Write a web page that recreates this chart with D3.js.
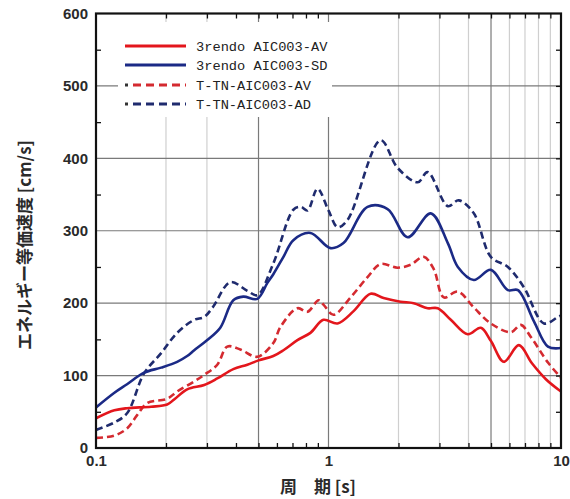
<!DOCTYPE html>
<html><head><meta charset="utf-8">
<script src="https://cdn.jsdelivr.net/npm/d3@7"></script>
<style>
body{margin:0;background:#fff;}
svg{display:block;}
</style></head>
<body>
<svg id="c" width="570" height="499"></svg>
<script>
// ---- data ----
const seriesNames = ["3rendo AIC003-AV", "3rendo AIC003-SD", "T-TN-AIC003-AV", "T-TN-AIC003-AD"];

const rendoAV_T = [0.1,0.12,0.136,0.1726,0.2023,0.2168,0.2467,0.292,0.3324,0.3895,0.4477,0.5,0.579,0.64,0.735,0.836,0.951,1.094,1.282,1.517,1.726,2.04,2.325,2.67,2.95,3.357,3.97,4.52,4.99,5.68,6.59,7.5,8.61,10];
const rendoAV_V = [41,52,55,57,60,67,81,87,96,109,115,121,127,135,149,159,177,172,189,213,207,202,200,193,193,177,157,166,148,119,142,117,95,78];

const rendoSD_T = [0.1,0.1196,0.136,0.161,0.1906,0.2234,0.2467,0.2645,0.301,0.3424,0.3895,0.43,0.494,0.546,0.579,0.64,0.706,0.836,1.02,1.16,1.472,1.795,2.19,2.752,3.26,3.6,4.217,4.99,5.91,6.53,7.65,8.79,10];
const rendoSD_V = [56,76,88,104,111,119,127,135,149,166,204,209,206,228,240,264,287,297,276,283,333,330,291,324,283,250,232,246,218,218,175,140,138];

const ttnAV_T = [0.1,0.1196,0.136,0.15,0.166,0.2023,0.2234,0.2645,0.292,0.3324,0.367,0.4175,0.494,0.579,0.621,0.735,0.812,0.906,0.951,1.051,1.245,1.472,1.675,1.98,2.256,2.566,2.836,3.131,3.6,4.217,4.99,6.09,6.72,7.43,8.79,10];
const ttnAV_V = [14,17,27,45,62,68,78,92,101,115,140,136,126,145,167,193,188,204,198,184,208,236,254,249,253,264,247,208,216,194,172,160,170,153,118,97];

const ttnAD_T = [0.1,0.1196,0.136,0.161,0.1906,0.2234,0.2645,0.292,0.319,0.378,0.4477,0.494,0.579,0.706,0.76,0.812,0.897,1.0,1.094,1.208,1.675,1.98,2.42,2.67,3.26,3.63,4.217,4.99,5.91,6.92,8.45,9.71,10];
const ttnAD_V = [25,35,48,103,131,159,177,181,195,229,217,211,255,329,333,328,358,328,305,315,425,387,367,381,334,342,324,264,250,222,172,181,183];

const yTicks = [0,100,200,300,400,500,600];
const yMinor = [50,150,250,350,450,550];
const xTicks = [0.1,1,10];
const xTickLabels = ["0.1","1","10"];
const xMinor = [0.2,0.3,0.4,0.5,0.6,0.7,0.8,0.9,2,3,4,5,6,7,8,9];
const xGridLight = [0.2,0.3,2,3,4,6,7,8,9];
const xGridDark = [0.5,1,5];
const yGrid = [100,200,300,400,500];

// ---- drawing ----
const svg = d3.select("#c");
const L = 96, R = 561, T = 13.5, B = 448;
const x = d3.scaleLog().domain([0.1,10]).range([L,R]);
const y = d3.scaleLinear().domain([0,600]).range([B,T]);

const g = svg.append("g");

// grid
g.selectAll(".gl").data(xGridLight).enter().append("line")
  .attr("x1",d=>x(d)).attr("x2",d=>x(d)).attr("y1",T).attr("y2",B)
  .attr("stroke","#cfcfcf").attr("stroke-width",1.2);
g.selectAll(".gd").data(xGridDark).enter().append("line")
  .attr("x1",d=>x(d)).attr("x2",d=>x(d)).attr("y1",T).attr("y2",B)
  .attr("stroke","#7a7a7a").attr("stroke-width",1.2);
g.selectAll(".gy").data(yGrid).enter().append("line")
  .attr("x1",L).attr("x2",R).attr("y1",d=>y(d)).attr("y2",d=>y(d))
  .attr("stroke","#7a7a7a").attr("stroke-width",1.2);

// legend background
g.append("rect").attr("x",118).attr("y",22).attr("width",214).attr("height",95).attr("fill","#fff");

// minor ticks via axes
function tickAxis(axis, tr){
  const a = g.append("g").attr("transform",tr).call(axis);
  a.select(".domain").remove();
  a.selectAll("line").attr("stroke","#111").attr("stroke-width",1.3);
  return a;
}
tickAxis(d3.axisLeft(y).tickValues(yMinor).tickSize(-5).tickFormat(""), `translate(${L},0)`);
tickAxis(d3.axisRight(y).tickValues(yMinor.concat([100,200,300,400,500])).tickSize(-5).tickFormat(""), `translate(${R},0)`);
tickAxis(d3.axisBottom(x).tickValues(xMinor).tickSize(-5).tickFormat(""), `translate(0,${B})`);
tickAxis(d3.axisTop(x).tickValues(xMinor).tickSize(-5).tickFormat(""), `translate(0,${T})`);

// labelled axes
const ya = g.append("g").attr("transform",`translate(${L},0)`)
  .call(d3.axisLeft(y).tickValues(yTicks).tickSize(0).tickPadding(8));
ya.select(".domain").remove();
ya.selectAll("text").attr("font-family","Liberation Sans, Arial, sans-serif").attr("font-size",15).attr("font-weight","bold").attr("fill","#2a2a2a");

const xa = g.append("g").attr("transform",`translate(0,${B})`)
  .call(d3.axisBottom(x).tickValues(xTicks).tickSize(0).tickPadding(7).tickFormat((d,i)=>xTickLabels[i]));
xa.select(".domain").remove();
xa.selectAll("text").attr("font-family","Liberation Sans, Arial, sans-serif").attr("font-size",15).attr("font-weight","bold").attr("fill","#2a2a2a");

// series
const series = [
  {T:rendoAV_T, V:rendoAV_V, color:"#e3161c", dash:null},
  {T:rendoSD_T, V:rendoSD_V, color:"#1b2a86", dash:null},
  {T:ttnAV_T, V:ttnAV_V, color:"#d42a30", dash:"7,4"},
  {T:ttnAD_T, V:ttnAD_V, color:"#1f2b6e", dash:"7,4"}
];
const line = d3.line().x(d=>x(d[0])).y(d=>y(d[1])).curve(d3.curveCatmullRom.alpha(0.5));
svg.append("clipPath").attr("id","clip").append("rect").attr("x",L).attr("y",T).attr("width",R-L).attr("height",B-T);
const pg = g.append("g").attr("clip-path","url(#clip)");
[2,3,0,1].forEach(i=>{
  const s = series[i];
  pg.append("path").datum(s.T.map((t,k)=>[t,s.V[k]]))
    .attr("d",line).attr("fill","none").attr("stroke",s.color)
    .attr("stroke-width",2.6).attr("stroke-dasharray",s.dash)
    .attr("stroke-linejoin","round");
});

// frame
g.append("rect").attr("x",L).attr("y",T).attr("width",R-L).attr("height",B-T)
  .attr("fill","none").attr("stroke","#111").attr("stroke-width",2.2);

// legend
const legY = [46,65,85,104];
const lg = g.append("g");
series.forEach((s,i)=>{
  if(s.dash){
    lg.append("line").attr("x1",125).attr("x2",128).attr("y1",legY[i]).attr("y2",legY[i]).attr("stroke","#333").attr("stroke-width",3);
    lg.append("line").attr("x1",133).attr("x2",186).attr("y1",legY[i]).attr("y2",legY[i])
      .attr("stroke",s.color).attr("stroke-width",3).attr("stroke-dasharray","8,5");
  } else {
    lg.append("line").attr("x1",125).attr("x2",186).attr("y1",legY[i]).attr("y2",legY[i])
      .attr("stroke",s.color).attr("stroke-width",3);
  }
  lg.append("text").attr("x",196).attr("y",legY[i]).attr("dy","0.36em")
    .attr("font-family","Liberation Mono, DejaVu Sans Mono, monospace").attr("font-size",13.7)
    .attr("fill","#222").text(seriesNames[i]);
});

// axis titles
svg.append("text").attr("transform","translate(31,245) rotate(-90)").attr("text-anchor","middle")
  .attr("font-family","Noto Sans CJK JP, sans-serif").attr("font-size",17).attr("font-weight","bold")
  .attr("fill","#2a2a2a").text("エネルギー等価速度 [cm/s]");
svg.append("text").attr("x",318).attr("y",493).attr("text-anchor","middle")
  .attr("font-family","Noto Sans CJK JP, sans-serif").attr("font-size",17).attr("font-weight","bold")
  .attr("fill","#2a2a2a").text("周　期 [s]");
</script>
</body></html>
